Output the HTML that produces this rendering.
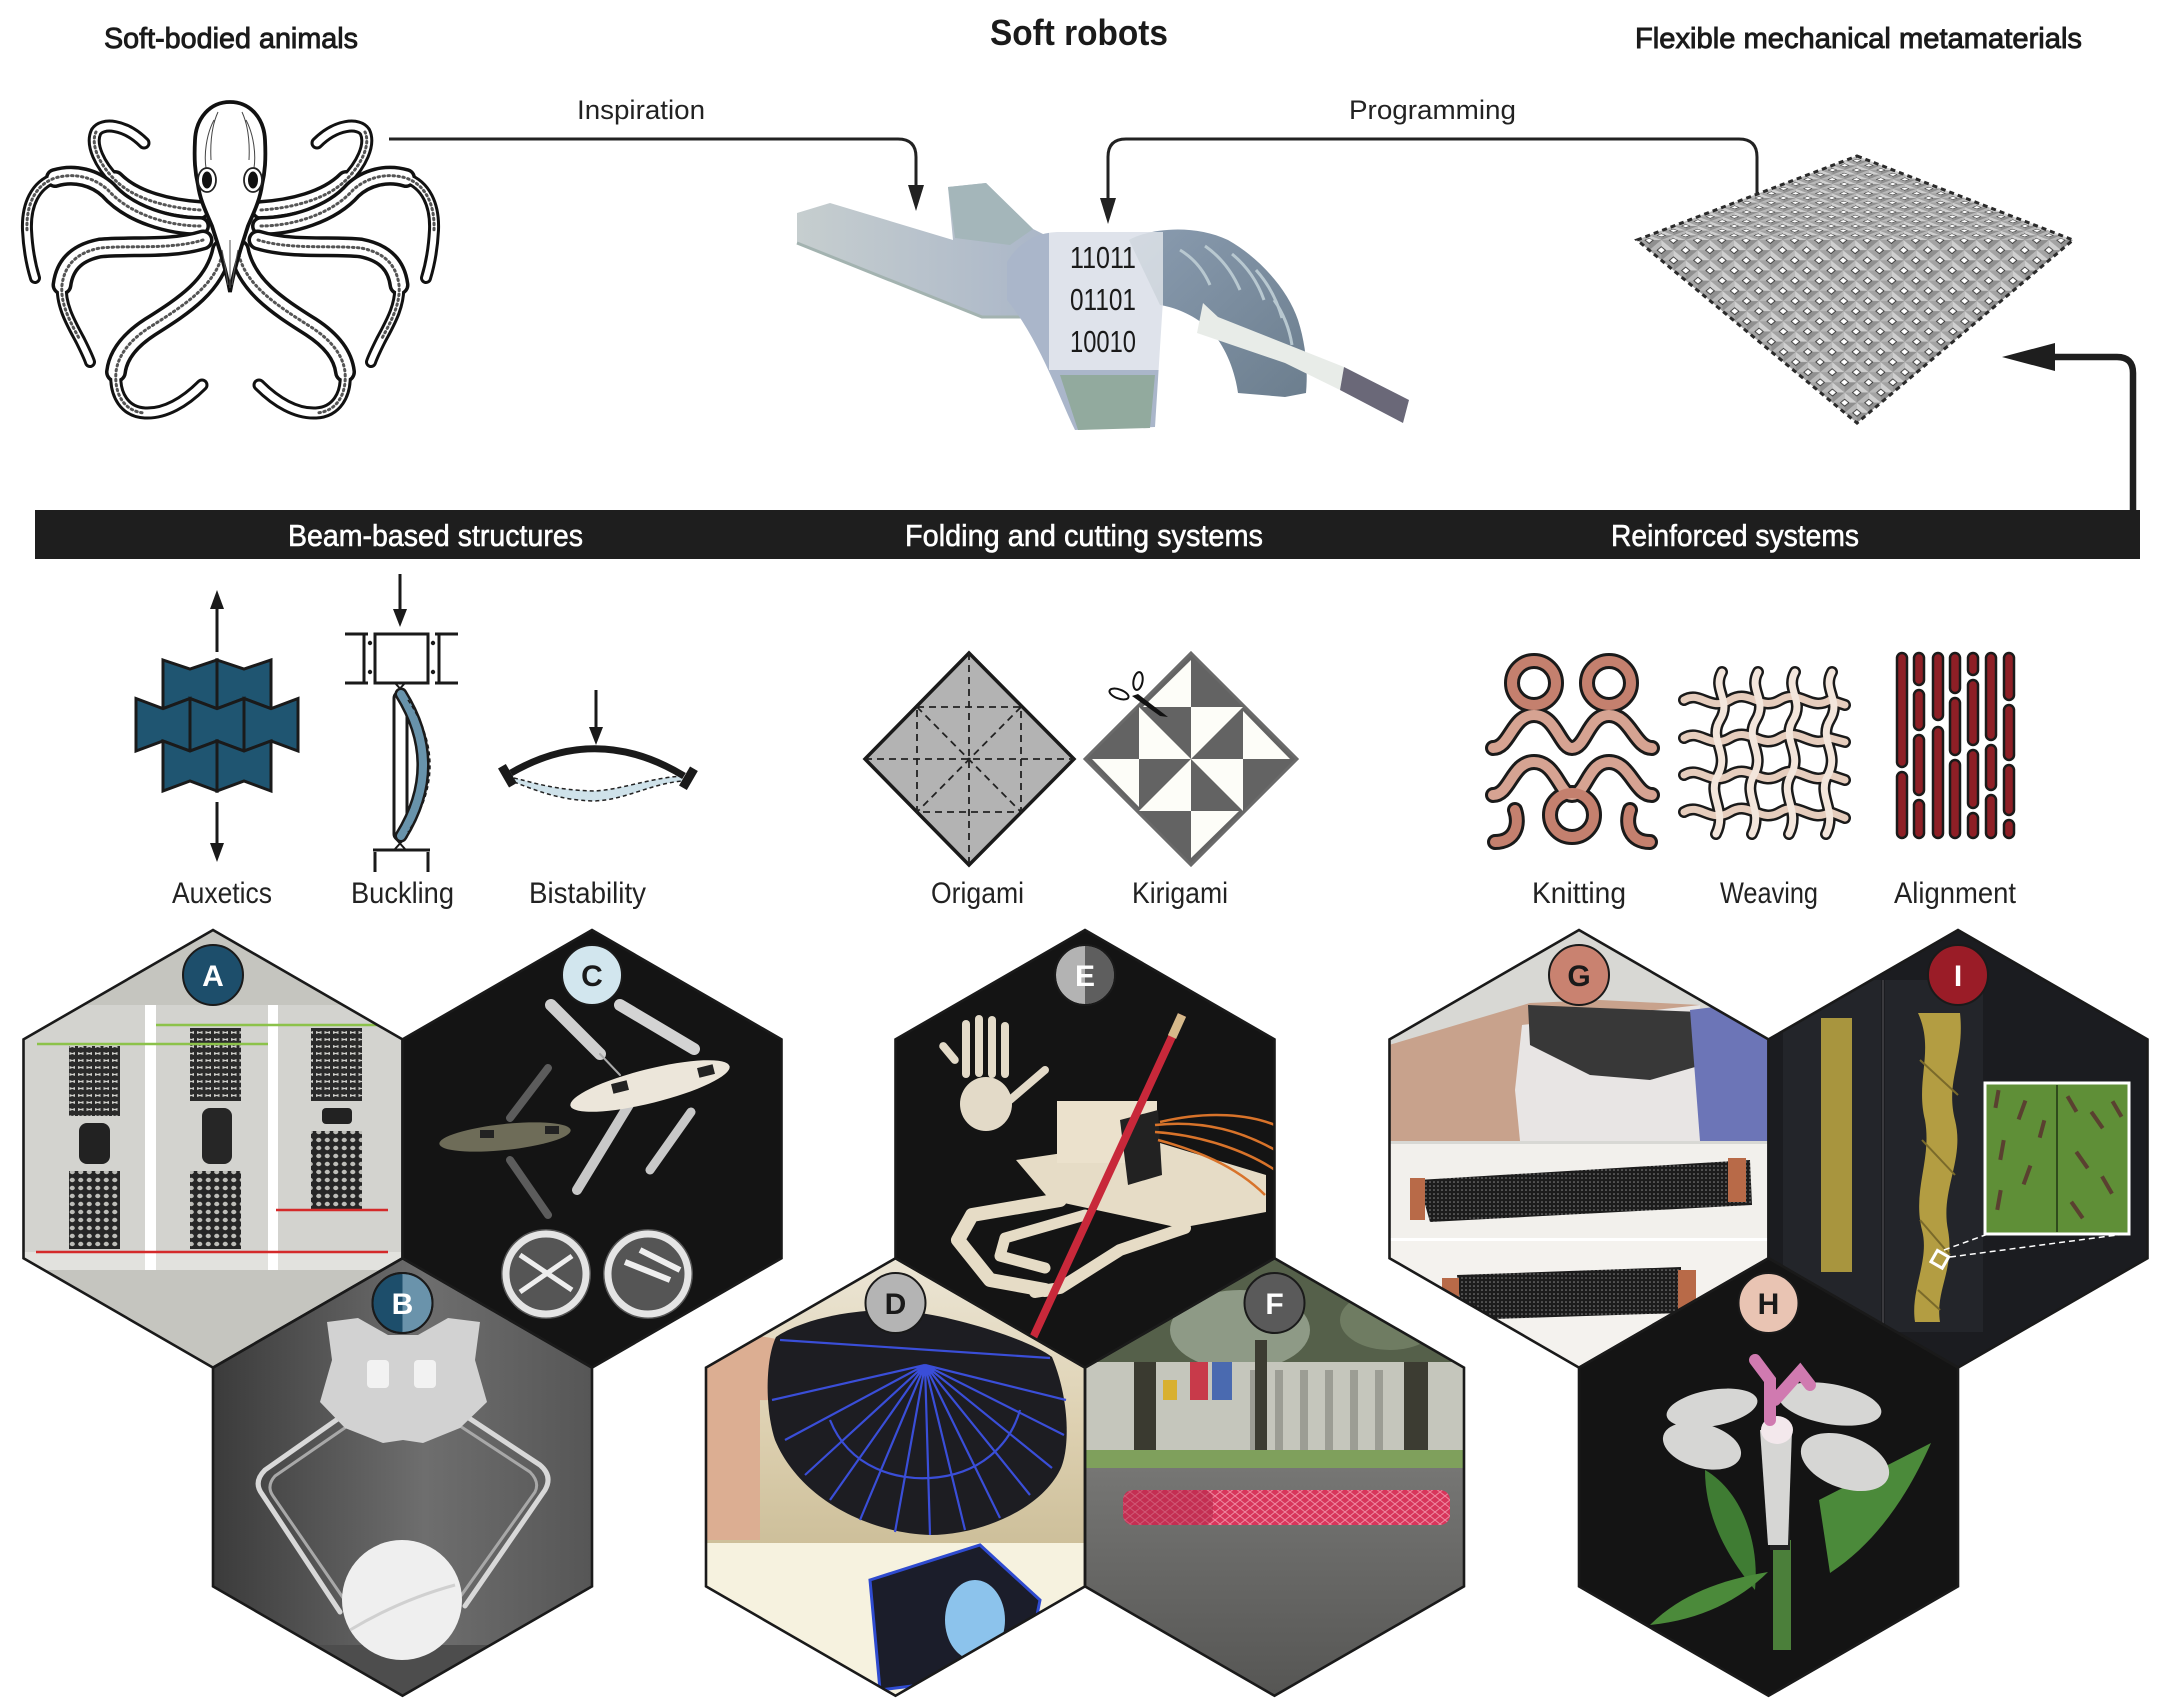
<!DOCTYPE html>
<html><head><meta charset="utf-8"><style>
html,body{margin:0;padding:0;background:#fff;}
svg{display:block;}
text{font-family:"Liberation Sans Narrow","Liberation Sans",sans-serif;}
</style></head><body>
<svg xmlns="http://www.w3.org/2000/svg" width="2175" height="1708" viewBox="0 0 2175 1708">
<defs>
<clipPath id="cA"><polygon points="213,930 402.5,1039.4 402.5,1258.2 213,1367.6 23.5,1258.2 23.5,1039.4"/></clipPath>
<clipPath id="cC"><polygon points="592,930 781.5,1039.4 781.5,1258.2 592,1367.6 402.5,1258.2 402.5,1039.4"/></clipPath>
<clipPath id="cB"><polygon points="402.5,1258.2 592,1367.6 592,1586.4 402.5,1695.8 213,1586.4 213,1367.6"/></clipPath>
<clipPath id="cE"><polygon points="1085,930 1274.5,1039.4 1274.5,1258.2 1085,1367.6 895.5,1258.2 895.5,1039.4"/></clipPath>
<clipPath id="cD"><polygon points="895.5,1258.2 1085,1367.6 1085,1586.4 895.5,1695.8 706,1586.4 706,1367.6"/></clipPath>
<clipPath id="cF"><polygon points="1274.5,1258.2 1464,1367.6 1464,1586.4 1274.5,1695.8 1085,1586.4 1085,1367.6"/></clipPath>
<clipPath id="cG"><polygon points="1579,930 1768.5,1039.4 1768.5,1258.2 1579,1367.6 1389.5,1258.2 1389.5,1039.4"/></clipPath>
<clipPath id="cI"><polygon points="1958,930 2147.5,1039.4 2147.5,1258.2 1958,1367.6 1768.5,1258.2 1768.5,1039.4"/></clipPath>
<clipPath id="cH"><polygon points="1768.5,1258.2 1958,1367.6 1958,1586.4 1768.5,1695.8 1579,1586.4 1579,1367.6"/></clipPath>

<pattern id="mm" width="10" height="10" patternUnits="userSpaceOnUse">
 <rect width="10" height="10" fill="#a3a3a3"/>
 <polygon points="0,0 10,0 5,5" fill="#cfcfcf"/>
 <polygon points="0,0 5,5 0,10" fill="#b8b8b8"/>
 <polygon points="10,10 5,5 10,0" fill="#8f8f8f"/>
 <rect x="3.3" y="3.3" width="3.4" height="3.4" fill="#fff" stroke="#222" stroke-width="0.5"/>
</pattern>
<pattern id="latA" width="8.5" height="7" patternUnits="userSpaceOnUse">
 <rect width="8.5" height="7" fill="#2a2a2a"/>
 <polygon points="1.5,2 4.25,3 7,2 7,5 4.25,4 1.5,5" fill="#cfcfcb"/>
</pattern>
<pattern id="latB" width="8.5" height="8" patternUnits="userSpaceOnUse">
 <rect width="8.5" height="8" fill="#262626"/>
 <ellipse cx="4.25" cy="4" rx="2.6" ry="2.2" fill="#bdbdb8"/>
</pattern>
<pattern id="knit" width="4" height="4" patternUnits="userSpaceOnUse">
 <rect width="4" height="4" fill="#1c1c1c"/>
 <circle cx="2" cy="2" r="0.8" fill="#8a8a8a"/>
</pattern>
<pattern id="tube" width="10" height="8" patternUnits="userSpaceOnUse">
 <rect width="10" height="8" fill="#d8355b"/>
 <path d="M0,4 L5,0 L10,4 L5,8 Z" fill="none" stroke="#ef8aa2" stroke-width="1"/>
</pattern>
<linearGradient id="gB" x1="0" y1="0" x2="1" y2="0">
 <stop offset="0" stop-color="#3a3a3a"/><stop offset="0.55" stop-color="#6e6e6e"/><stop offset="1" stop-color="#555"/>
</linearGradient>
<linearGradient id="gD" x1="0" y1="0" x2="0" y2="1">
 <stop offset="0" stop-color="#ece6d6"/><stop offset="0.6" stop-color="#ddd0b0"/><stop offset="1" stop-color="#cdbf9a"/>
</linearGradient>
<linearGradient id="gF" x1="0" y1="0" x2="0" y2="1">
 <stop offset="0" stop-color="#767674"/><stop offset="1" stop-color="#545452"/>
</linearGradient>
<linearGradient id="gArm" x1="0" y1="0" x2="1" y2="0">
 <stop offset="0" stop-color="#c6cecf"/><stop offset="1" stop-color="#aab6c8"/>
</linearGradient>
<linearGradient id="gArc" x1="0" y1="0" x2="1" y2="1">
 <stop offset="0" stop-color="#8a9cb0"/><stop offset="1" stop-color="#6c7e8e"/>
</linearGradient>

<g id="arms" fill="none" stroke-linecap="round" stroke-linejoin="round">
 <path d="M200 210 C170 208,135 200,115 180" stroke="#111" stroke-width="20"/>
 <path d="M115 180 C100 165,90 145,96 132 C102 122,125 124,144 143" stroke="#111" stroke-width="13"/>
 <path d="M200 210 C170 208,135 200,115 180" stroke="#fff" stroke-width="13"/>
 <path d="M115 180 C100 165,90 145,96 132 C102 122,125 124,144 143" stroke="#fff" stroke-width="7"/>
 <path d="M200 210 C170 208,135 200,115 180 C100 165,90 145,96 132" stroke="#555" stroke-width="3" stroke-dasharray="1.5 3.5"/>
 <path d="M200 226 C170 226,130 215,108 190 C95 178,75 172,55 178" stroke="#111" stroke-width="20"/>
 <path d="M55 178 C35 185,26 205,27 230 C28 250,31 265,35 278" stroke="#111" stroke-width="12"/>
 <path d="M200 226 C170 226,130 215,108 190 C95 178,75 172,55 178" stroke="#fff" stroke-width="13"/>
 <path d="M55 178 C35 185,26 205,27 230 C28 250,31 265,35 278" stroke="#fff" stroke-width="6"/>
 <path d="M200 226 C170 226,130 215,108 190 C95 178,75 172,55 178 C35 185,26 205,27 230" stroke="#555" stroke-width="3" stroke-dasharray="1.5 3.5"/>
 <path d="M203 240 C170 250,130 245,100 248 C80 252,65 262,62 285" stroke="#111" stroke-width="21"/>
 <path d="M62 285 C60 305,72 325,80 340 C85 350,88 356,90 362" stroke="#111" stroke-width="12"/>
 <path d="M203 240 C170 250,130 245,100 248 C80 252,65 262,62 285" stroke="#fff" stroke-width="14"/>
 <path d="M62 285 C60 305,72 325,80 340 C85 350,88 356,90 362" stroke="#fff" stroke-width="6"/>
 <path d="M203 240 C170 250,130 245,100 248 C80 252,65 262,62 285 C60 305,72 325,80 340" stroke="#555" stroke-width="3" stroke-dasharray="1.5 3.5"/>
 <path d="M222 250 C215 285,185 305,150 327 C130 340,118 355,116 372" stroke="#111" stroke-width="22"/>
 <path d="M116 372 C114 395,125 412,145 413 C165 414,185 402,202 385" stroke="#111" stroke-width="13"/>
 <path d="M222 250 C215 285,185 305,150 327 C130 340,118 355,116 372" stroke="#fff" stroke-width="15"/>
 <path d="M116 372 C114 395,125 412,145 413 C165 414,185 402,202 385" stroke="#fff" stroke-width="7"/>
 <path d="M222 255 C215 285,185 305,150 327 C130 340,118 355,116 372 C114 395,125 412,145 413" stroke="#555" stroke-width="3" stroke-dasharray="1.5 3.5"/>
</g>
</defs>

<rect width="2175" height="1708" fill="#fff"/>

<!-- Titles -->
<text x="104" y="48" font-size="29" textLength="254" lengthAdjust="spacingAndGlyphs" fill="#1a1a1a" stroke="#1a1a1a" stroke-width="0.9">Soft-bodied animals</text>
<text x="990" y="45" font-size="36" font-weight="bold" textLength="178" lengthAdjust="spacingAndGlyphs" fill="#1a1a1a">Soft robots</text>
<text x="1635" y="48" font-size="29" textLength="447" lengthAdjust="spacingAndGlyphs" fill="#1a1a1a" stroke="#1a1a1a" stroke-width="0.9">Flexible mechanical  metamaterials</text>
<text x="577" y="119" font-size="27" textLength="128" lengthAdjust="spacingAndGlyphs" fill="#222">Inspiration</text>
<text x="1349" y="119" font-size="27" textLength="167" lengthAdjust="spacingAndGlyphs" fill="#222">Programming</text>

<!-- Connectors -->
<path d="M389 139 H898 Q916 139 916 157 V190" fill="none" stroke="#222" stroke-width="3"/>
<polygon points="908,185 924,185 916,211" fill="#222"/>
<path d="M1108 200 V157 Q1108 139 1126 139 H1739 Q1757 139 1757 157 V201" fill="none" stroke="#222" stroke-width="3"/>
<polygon points="1100,198 1116,198 1108,224" fill="#222"/>
<path d="M2133 514 V373 Q2133 357 2117 357 H2050" fill="none" stroke="#1e1e1e" stroke-width="6.5"/>
<polygon points="2055,343 2055,371 2002,357" fill="#1e1e1e"/>

<!-- Octopus -->
<use href="#arms"/>
<use href="#arms" transform="translate(461,0) scale(-1,1)"/>
<path d="M230 102 C210 102,196 118,195 140 C194 160,195 172,198 185 C200 200,206 212,212 226 C218 245,225 265,230 292 C235 265,242 245,248 226 C254 212,260 200,262 185 C265 172,266 160,265 140 C264 118,250 102,230 102 Z" fill="#fff" stroke="#111" stroke-width="3.8"/>
<path d="M214 120 C206 135,204 155,206 168 M246 120 C254 135,256 155,254 168 M218 112 C212 125,210 140,211 160 M242 112 C248 125,250 140,249 160" fill="none" stroke="#444" stroke-width="1"/>
<ellipse cx="207" cy="180" rx="9" ry="12" fill="#fff" stroke="#222" stroke-width="1.8"/>
<ellipse cx="253" cy="180" rx="9" ry="12" fill="#fff" stroke="#222" stroke-width="1.8"/>
<ellipse cx="207" cy="180" rx="5" ry="8.5" fill="#111"/>
<ellipse cx="253" cy="180" rx="5" ry="8.5" fill="#111"/>
<path d="M230 240 V288 M222 250 Q226 270 228 285 M238 250 Q234 270 232 285" stroke="#555" stroke-width="1" fill="none"/>

<!-- Soft robot -->
<polygon points="797,213 830,203 953,240 948,187 986,183 1033,229 1049,237 1049,320 1033,317 982,317 797,243" fill="url(#gArm)"/>
<polygon points="948,187 986,183 1033,229 1010,245 955,238" fill="#a4b6ba"/>
<path d="M797,243 L982,317 L1033,317" fill="none" stroke="#a3b3b0" stroke-width="3"/>
<path d="M1007,262 C1020,240 1040,232 1060,232 L1160,232 L1163,300 L1155,427 L1075,430 C1060,400 1040,340 1007,300 Z" fill="#aab6ca"/>
<path d="M1129,240 C1150,228 1195,224 1228,240 C1260,258 1288,290 1298,320 C1306,345 1308,370 1306,393 L1285,397 L1238,393 C1234,365 1222,340 1205,325 C1188,312 1172,307 1160,305 Z" fill="url(#gArc)"/>
<path d="M1180,250 Q1200,262 1210,285 M1205,246 Q1228,262 1240,290 M1232,254 Q1254,272 1264,300 M1256,270 Q1274,290 1282,318 M1274,300 Q1288,320 1292,345" stroke="#b8c8d0" stroke-width="3" fill="none"/>
<polygon points="1203,303 1218,317 1344,367 1340,390 1285,363 1197,333" fill="#e8ece8"/>
<polygon points="1344,367 1409,400 1403,423 1340,390" fill="#6a6878"/>
<path d="M1060,375 L1155,375 L1150,428 L1078,430 Z" fill="#92aa9e"/>
<rect x="1049" y="232" width="114" height="138" fill="#fff" fill-opacity="0.62"/>
<text x="1070" y="268" font-size="31" textLength="66" lengthAdjust="spacingAndGlyphs" fill="#1a1a1a">11011</text>
<text x="1070" y="310" font-size="31" textLength="66" lengthAdjust="spacingAndGlyphs" fill="#1a1a1a">01101</text>
<text x="1070" y="352" font-size="31" textLength="66" lengthAdjust="spacingAndGlyphs" fill="#1a1a1a">10010</text>

<!-- Metamaterial -->
<g transform="matrix(1.2,0.4667,-1.2222,0.4667,1857,156)"><polygon points="0,0 180,0 0,180" fill="url(#mm)"/></g>
<g transform="matrix(1.2222,1.0167,-1.2,1.0167,1853,57)"><polygon points="180,0 180,180 0,180" fill="url(#mm)"/></g>
<polygon points="1857,156 2073,240 1857,423 1637,240" fill="none" stroke="#2a2a2a" stroke-width="3" stroke-dasharray="5 4"/>

<!-- Bar -->
<rect x="35" y="510" width="2105" height="49" fill="#1e1e1e"/>
<text x="288" y="546" font-size="31" textLength="295" lengthAdjust="spacingAndGlyphs" fill="#fff" stroke="#fff" stroke-width="0.6">Beam-based structures</text>
<text x="905" y="546" font-size="31" textLength="358" lengthAdjust="spacingAndGlyphs" fill="#fff" stroke="#fff" stroke-width="0.6">Folding and cutting systems</text>
<text x="1611" y="546" font-size="31" textLength="248" lengthAdjust="spacingAndGlyphs" fill="#fff" stroke="#fff" stroke-width="0.6">Reinforced systems</text>

<!-- Auxetics -->
<g fill="#1f5571" stroke="#1a1a1a" stroke-width="3" stroke-linejoin="miter">
 <polygon points="163,660 190,669 217,660 217,708.6 190,698.5 163,708.6"/>
 <polygon points="217,660 244,669 271,660 271,708.6 244,698.5 217,708.6"/>
 <polygon points="136,698.5 163,708.6 190,698.5 190,751 163,741 136,751"/>
 <polygon points="190,698.5 217,708.6 244,698.5 244,751 217,741 190,751"/>
 <polygon points="244,698.5 271,708.6 298,698.5 298,751 271,741 244,751"/>
 <polygon points="163,741 190,751 217,741 217,791 190,781 163,791"/>
 <polygon points="217,741 244,751 271,741 271,791 244,781 217,791"/>
</g>
<line x1="217" y1="652" x2="217" y2="606" stroke="#1a1a1a" stroke-width="3"/>
<polygon points="210,609 224,609 217,590" fill="#1a1a1a"/>
<line x1="217" y1="802" x2="217" y2="846" stroke="#1a1a1a" stroke-width="3"/>
<polygon points="210,843 224,843 217,862" fill="#1a1a1a"/>
<!-- Buckling -->
<line x1="400" y1="574" x2="400" y2="612" stroke="#1a1a1a" stroke-width="3"/>
<polygon points="393,609 407,609 400,627" fill="#1a1a1a"/>
<g fill="none" stroke="#1a1a1a" stroke-width="3">
 <rect x="375" y="634" width="53" height="49" fill="#fff"/>
 <path d="M345 634 H368 M364 634 V683 M345 683 H368 M458 634 H435 M439 634 V683 M458 683 H435"/>
 <path d="M375 852 V872 M428 852 V872 M373 850 H430"/>
 <path d="M395 683 L405 694 M405 683 L395 694 M395 838 L405 849 M405 838 L395 849" stroke-width="2"/>
 <rect x="394" y="692" width="13" height="148" rx="6" fill="#fff"/>
</g>
<circle cx="370" cy="643" r="2.2" fill="#1a1a1a"/><circle cx="370" cy="672" r="2.2" fill="#1a1a1a"/>
<circle cx="433" cy="643" r="2.2" fill="#1a1a1a"/><circle cx="433" cy="672" r="2.2" fill="#1a1a1a"/>
<path d="M401 694 Q445 765 401 836" fill="none" stroke="#1a1a1a" stroke-width="13" stroke-linecap="round"/>
<path d="M401 694 Q445 765 401 836" fill="none" stroke="#6893ab" stroke-width="8" stroke-linecap="round"/>
<path d="M408 700 Q452 765 408 832" fill="none" stroke="#1a1a1a" stroke-width="1.5" stroke-dasharray="4 3"/>
<!-- Bistability -->
<line x1="596" y1="690" x2="596" y2="730" stroke="#1a1a1a" stroke-width="3"/>
<polygon points="589,727 603,727 596,745" fill="#1a1a1a"/>
<path d="M514 778 C535 783,555 790,594 791 C620 790,650 778,682 776 L682 781 C650 784,625 800,594 801 C560 800,540 792,514 782 Z" fill="#cfe2ea"/>
<path d="M514 778 C535 783,555 790,594 791 C620 790,650 778,682 776" fill="none" stroke="#222" stroke-width="1.5" stroke-dasharray="4 3"/>
<path d="M514 782 C540 792,560 800,594 801 C625 800,650 784,682 781" fill="none" stroke="#222" stroke-width="1.5" stroke-dasharray="4 3"/>
<path d="M511 773 Q597 723 684 776" fill="none" stroke="#1a1a1a" stroke-width="7"/>
<rect x="503" y="765" width="9" height="22" fill="#1a1a1a" transform="rotate(-30 507 776)"/>
<rect x="684" y="767" width="9" height="22" fill="#1a1a1a" transform="rotate(30 688 778)"/>
<!-- Origami -->
<polygon points="969,653 1074,759 969,865 865,759" fill="#b3b3b3" stroke="#1a1a1a" stroke-width="3.5"/>
<g stroke="#222" stroke-width="1.8" stroke-dasharray="7 5" fill="none">
 <rect x="917" y="707" width="104" height="105"/>
 <line x1="865" y1="759" x2="1074" y2="759"/>
 <line x1="969" y1="653" x2="969" y2="865"/>
 <line x1="917" y1="707" x2="1021" y2="812"/>
 <line x1="1021" y1="707" x2="917" y2="812"/>
</g>
<!-- Kirigami -->
<polygon points="1191,653 1297,759 1191,865 1085,759" fill="#636363" stroke="#6a6a6a" stroke-width="3"/>
<g fill="#fdfdf8" transform="translate(1191,759)">
 <polygon points="0,-99 0,-52 -48,-52"/>
 <polygon points="-52,-52 -52,0 0,0"/>
 <polygon points="99,0 52,0 52,-48"/>
 <polygon points="52,-52 0,-52 0,0"/>
 <polygon points="0,99 0,52 48,52"/>
 <polygon points="52,52 52,0 0,0"/>
 <polygon points="-99,0 -52,0 -52,48"/>
 <polygon points="-52,52 0,52 0,0"/>
</g>
<g stroke="#111" fill="none" stroke-width="2">
 <ellipse cx="1138" cy="681" rx="4.5" ry="9" transform="rotate(10 1138 681)"/>
 <ellipse cx="1119" cy="694" rx="10" ry="4.5" transform="rotate(20 1119 694)"/>
</g>
<polygon points="1132,696 1138,694 1168,717 1160,716" fill="#111"/>
<!-- Knitting -->
<g fill="none" stroke-linecap="round">
 <g stroke="#1a1a1a" stroke-width="16">
  <circle cx="1534" cy="683" r="22"/><circle cx="1609" cy="683" r="22"/>
  <path d="M1493 748 C1510 748,1512 715,1534 715 C1556 715,1560 748,1572 748 C1586 748,1588 715,1609 715 C1630 715,1635 748,1652 748"/>
  <path d="M1493 795 C1510 795,1512 762,1534 762 C1556 762,1560 795,1572 795 C1586 795,1588 762,1609 762 C1630 762,1635 795,1652 795"/>
  <circle cx="1572" cy="815" r="22"/>
  <path d="M1495 842 C1515 842,1520 825,1515 810 M1650 842 C1630 842,1625 825,1630 810"/>
 </g>
 <g stroke="#c4806e" stroke-width="10">
  <circle cx="1534" cy="683" r="22"/><circle cx="1609" cy="683" r="22"/>
  <path d="M1493 748 C1510 748,1512 715,1534 715 C1556 715,1560 748,1572 748 C1586 748,1588 715,1609 715 C1630 715,1635 748,1652 748" stroke="#d6a392"/>
  <path d="M1493 795 C1510 795,1512 762,1534 762 C1556 762,1560 795,1572 795 C1586 795,1588 762,1609 762 C1630 762,1635 795,1652 795" stroke="#d6a392"/>
  <circle cx="1572" cy="815" r="22"/>
  <path d="M1495 842 C1515 842,1520 825,1515 810 M1650 842 C1630 842,1625 825,1630 810"/>
 </g>
</g>
<!-- Weaving -->
<g fill="none" stroke-linecap="round">
 <g stroke="#1a1a1a" stroke-width="12">
  <path d="M1684 700 C1700 690,1710 712,1730 700 C1750 688,1760 712,1780 700 C1800 688,1810 712,1830 700 L1845 705"/>
  <path d="M1684 738 C1700 728,1710 750,1730 738 C1750 726,1760 750,1780 738 C1800 726,1810 750,1830 738 L1845 742"/>
  <path d="M1684 775 C1700 765,1710 787,1730 775 C1750 763,1760 787,1780 775 C1800 763,1810 787,1830 775 L1845 780"/>
  <path d="M1684 812 C1700 802,1710 824,1730 812 C1750 800,1760 824,1780 812 C1800 800,1810 824,1830 812 L1845 818"/>
  <path d="M1722 672 C1712 690,1732 700,1720 720 C1708 740,1730 752,1718 775 C1706 795,1728 810,1716 834"/>
  <path d="M1758 672 C1748 690,1768 700,1756 720 C1744 740,1766 752,1754 775 C1742 795,1764 810,1752 834"/>
  <path d="M1795 672 C1785 690,1805 700,1793 720 C1781 740,1803 752,1791 775 C1779 795,1801 810,1789 834"/>
  <path d="M1832 672 C1822 690,1842 700,1830 720 C1818 740,1840 752,1828 775 C1816 795,1838 810,1826 834"/>
 </g>
 <g stroke-width="7">
  <g stroke="#e6cdbd">
  <path d="M1684 700 C1700 690,1710 712,1730 700 C1750 688,1760 712,1780 700 C1800 688,1810 712,1830 700 L1845 705"/>
  <path d="M1684 738 C1700 728,1710 750,1730 738 C1750 726,1760 750,1780 738 C1800 726,1810 750,1830 738 L1845 742"/>
  <path d="M1684 775 C1700 765,1710 787,1730 775 C1750 763,1760 787,1780 775 C1800 763,1810 787,1830 775 L1845 780"/>
  <path d="M1684 812 C1700 802,1710 824,1730 812 C1750 800,1760 824,1780 812 C1800 800,1810 824,1830 812 L1845 818"/>
  </g>
  <g stroke="#f3e6dc">
  <path d="M1722 672 C1712 690,1732 700,1720 720 C1708 740,1730 752,1718 775 C1706 795,1728 810,1716 834"/>
  <path d="M1758 672 C1748 690,1768 700,1756 720 C1744 740,1766 752,1754 775 C1742 795,1764 810,1752 834"/>
  <path d="M1795 672 C1785 690,1805 700,1793 720 C1781 740,1803 752,1791 775 C1779 795,1801 810,1789 834"/>
  <path d="M1832 672 C1822 690,1842 700,1830 720 C1818 740,1840 752,1828 775 C1816 795,1838 810,1826 834"/>
  </g>
 </g>
</g>
<!-- Alignment -->
<g fill="#8e1f26" stroke="#1a1a1a" stroke-width="2.5">
 <rect x="1897" y="653" width="10" height="114" rx="5"/><rect x="1897" y="772" width="10" height="66" rx="5"/>
 <rect x="1914" y="653" width="10" height="32" rx="5"/><rect x="1914" y="690" width="10" height="40" rx="5"/><rect x="1914" y="735" width="10" height="60" rx="5"/><rect x="1914" y="800" width="10" height="38" rx="5"/>
 <rect x="1933" y="653" width="10" height="67" rx="5"/><rect x="1933" y="727" width="10" height="111" rx="5"/>
 <rect x="1950" y="653" width="10" height="40" rx="5"/><rect x="1950" y="698" width="10" height="57" rx="5"/><rect x="1950" y="760" width="10" height="78" rx="5"/>
 <rect x="1968" y="653" width="10" height="22" rx="5"/><rect x="1968" y="680" width="10" height="65" rx="5"/><rect x="1968" y="750" width="10" height="58" rx="5"/><rect x="1968" y="813" width="10" height="25" rx="5"/>
 <rect x="1986" y="653" width="10" height="87" rx="5"/><rect x="1986" y="745" width="10" height="45" rx="5"/><rect x="1986" y="795" width="10" height="43" rx="5"/>
 <rect x="2004" y="653" width="10" height="47" rx="5"/><rect x="2004" y="705" width="10" height="55" rx="5"/><rect x="2004" y="765" width="10" height="50" rx="5"/><rect x="2004" y="820" width="10" height="18" rx="5"/>
</g>

<!-- Labels -->
<g font-size="30" fill="#222">
 <text x="172" y="903" textLength="100" lengthAdjust="spacingAndGlyphs">Auxetics</text>
 <text x="351" y="903" textLength="103" lengthAdjust="spacingAndGlyphs">Buckling</text>
 <text x="529" y="903" textLength="117" lengthAdjust="spacingAndGlyphs">Bistability</text>
 <text x="931" y="903" textLength="93" lengthAdjust="spacingAndGlyphs">Origami</text>
 <text x="1132" y="903" textLength="96" lengthAdjust="spacingAndGlyphs">Kirigami</text>
 <text x="1532" y="903" textLength="94" lengthAdjust="spacingAndGlyphs">Knitting</text>
 <text x="1720" y="903" textLength="98" lengthAdjust="spacingAndGlyphs">Weaving</text>
 <text x="1894" y="903" textLength="122" lengthAdjust="spacingAndGlyphs">Alignment</text>
</g>

<!-- Hex A -->
<g clip-path="url(#cA)">
 <rect x="20" y="925" width="390" height="450" fill="#c5c5bf"/>
 <rect x="23" y="1005" width="380" height="265" fill="#d3d3cf"/>
 <rect x="23" y="1252" width="380" height="18" fill="#e2e2de"/>
 <rect x="145" y="1005" width="11" height="265" fill="#fff"/>
 <rect x="268" y="1005" width="10" height="265" fill="#fff"/>
 <rect x="69" y="1046" width="51" height="70" fill="url(#latA)"/>
 <rect x="79" y="1123" width="31" height="41" rx="8" fill="#222"/>
 <rect x="69" y="1171" width="51" height="78" fill="url(#latB)"/>
 <rect x="190" y="1028" width="51" height="73" fill="url(#latA)"/>
 <rect x="202" y="1108" width="30" height="56" rx="8" fill="#262626"/>
 <rect x="190" y="1171" width="51" height="78" fill="url(#latB)"/>
 <rect x="311" y="1028" width="51" height="73" fill="url(#latA)"/>
 <rect x="322" y="1108" width="30" height="16" rx="4" fill="#222"/>
 <rect x="311" y="1131" width="51" height="78" fill="url(#latB)"/>
 <line x1="37" y1="1044" x2="268" y2="1044" stroke="#8cc24a" stroke-width="2.5"/>
 <line x1="156" y1="1025" x2="378" y2="1025" stroke="#8cc24a" stroke-width="2.5"/>
 <line x1="276" y1="1210" x2="388" y2="1210" stroke="#d42a2a" stroke-width="2.5"/>
 <line x1="36" y1="1252" x2="388" y2="1252" stroke="#d42a2a" stroke-width="2.5"/>
</g>
<!-- Hex C -->
<g clip-path="url(#cC)">
 <rect x="400" y="925" width="390" height="450" fill="#141414"/>
 <g stroke-linecap="round">
  <line x1="551" y1="1005" x2="600" y2="1054" stroke="#cfcfcf" stroke-width="12"/>
  <line x1="620" y1="1005" x2="694" y2="1049" stroke="#d3d3d3" stroke-width="12"/>
  <line x1="633" y1="1098" x2="577" y2="1190" stroke="#c8c8c8" stroke-width="10"/>
  <line x1="691" y1="1112" x2="650" y2="1170" stroke="#c8c8c8" stroke-width="9"/>
  <line x1="548" y1="1068" x2="510" y2="1118" stroke="#5c5c5c" stroke-width="8"/>
  <line x1="510" y1="1160" x2="548" y2="1215" stroke="#5c5c5c" stroke-width="8"/>
  <line x1="600" y1="1054" x2="620" y2="1075" stroke="#aaa" stroke-width="2"/>
 </g>
 <ellipse cx="505" cy="1137" rx="66" ry="13" fill="#6e6c58" transform="rotate(-6 505 1137)"/>
 <rect x="480" y="1130" width="14" height="8" fill="#222"/><rect x="545" y="1126" width="14" height="8" fill="#222"/>
 <ellipse cx="650" cy="1086" rx="82" ry="17" fill="#ece6da" transform="rotate(-14 650 1086)"/>
 <rect x="612" y="1082" width="16" height="10" fill="#222" transform="rotate(-14 620 1087)"/>
 <rect x="698" y="1066" width="16" height="10" fill="#222" transform="rotate(-14 706 1071)"/>
 <circle cx="546" cy="1274" r="45" fill="#555"/>
 <circle cx="546" cy="1274" r="40" fill="none" stroke="#e4e4e4" stroke-width="7"/>
 <path d="M520 1255 L572 1290 M520 1292 L572 1256" stroke="#eee" stroke-width="5"/>
 <circle cx="648" cy="1274" r="45" fill="#555"/>
 <circle cx="648" cy="1274" r="40" fill="none" stroke="#e4e4e4" stroke-width="7"/>
 <path d="M625 1262 L670 1280 M640 1250 L680 1270" stroke="#eee" stroke-width="6"/>
</g>
<!-- Hex B -->
<g clip-path="url(#cB)">
 <rect x="210" y="1255" width="390" height="445" fill="url(#gB)"/>
 <rect x="210" y="1645" width="390" height="60" fill="#4d4d4d"/>
 <g fill="none" stroke-linecap="round" stroke-linejoin="round">
  <path d="M372 1395 L265 1470 Q253 1482 262 1494 L340 1612" stroke="#d8d8d8" stroke-width="5"/>
  <path d="M378 1405 L275 1476 Q266 1486 273 1496 L348 1605" stroke="#a8a8a8" stroke-width="3"/>
  <path d="M434 1395 L540 1465 Q553 1476 545 1490 L465 1606" stroke="#d8d8d8" stroke-width="5"/>
  <path d="M428 1405 L530 1472 Q540 1482 535 1492 L458 1600" stroke="#a8a8a8" stroke-width="3"/>
 </g>
 <polygon points="327,1322 358,1318 388,1335 418,1335 448,1318 480,1322 475,1360 487,1402 460,1428 423,1443 403,1440 383,1443 345,1428 320,1402 332,1360" fill="#d2d2d2"/>
 <rect x="367" y="1360" width="22" height="28" rx="4" fill="#f2f2f2"/>
 <rect x="414" y="1360" width="22" height="28" rx="4" fill="#f2f2f2"/>
 <circle cx="402" cy="1600" r="60" fill="#efefef"/>
 <path d="M350 1630 Q400 1600 455 1585" stroke="#d0d0d0" stroke-width="3" fill="none"/>
</g>
<!-- Hex E -->
<g clip-path="url(#cE)">
 <rect x="890" y="925" width="390" height="450" fill="#141414"/>
 <g fill="#e3dac8">
  <rect x="962" y="1020" width="8" height="58" rx="4"/><rect x="975" y="1015" width="8" height="62" rx="4"/>
  <rect x="988" y="1016" width="8" height="62" rx="4"/><rect x="1001" y="1022" width="8" height="56" rx="4"/>
  <rect x="945" y="1040" width="8" height="26" rx="4" transform="rotate(-40 949 1053)"/>
  <ellipse cx="986" cy="1104" rx="26" ry="27"/>
 </g>
 <line x1="1010" y1="1100" x2="1045" y2="1070" stroke="#e3dac8" stroke-width="8" stroke-linecap="round"/>
 <polygon points="1016,1160 1150,1140 1266,1175 1266,1212 1180,1228 1050,1200" fill="#e6dcc6"/>
 <rect x="1057" y="1101" width="100" height="62" fill="#ebe1cc"/>
 <g fill="none" stroke="#e6dcc6" stroke-linecap="round" stroke-linejoin="round">
  <polyline points="1060,1200 972,1215 958,1240 990,1280 1045,1290" stroke-width="14"/>
  <polyline points="1085,1215 1005,1238 1000,1256 1045,1268" stroke-width="11"/>
  <polyline points="1185,1228 1120,1250 1060,1288 1035,1292" stroke-width="12"/>
 </g>
 <polygon points="1120,1120 1158,1110 1162,1175 1128,1185" fill="#222"/>
 <g fill="none" stroke="#d8732a" stroke-width="2.5">
  <path d="M1155 1125 C1200 1120,1240 1130,1275 1150"/>
  <path d="M1155 1132 C1200 1135,1245 1150,1275 1170"/>
  <path d="M1158 1140 C1195 1150,1235 1165,1265 1195"/>
  <path d="M1160 1122 C1210 1110,1250 1115,1275 1125"/>
 </g>
 <line x1="1182" y1="1015" x2="1032" y2="1340" stroke="#c8283a" stroke-width="8"/>
 <line x1="1182" y1="1015" x2="1172" y2="1037" stroke="#d7b98a" stroke-width="9"/>
</g>
<!-- Hex D -->
<g clip-path="url(#cD)">
 <rect x="700" y="1255" width="390" height="290" fill="url(#gD)"/>
 <path d="M706 1340 C740 1330,790 1335,822 1360 C830 1380,800 1402,760 1400 L760 1540 L706 1540 Z" fill="#dcae92"/>
 <path d="M776 1337 C800 1320,860 1305,914 1312 C960 1318,1030 1340,1052 1357 C1070 1400,1070 1450,1060 1470 C1040 1510,980 1535,930 1535 C870 1533,800 1500,775 1440 C765 1410,765 1360,776 1337 Z" fill="#1d1d22"/>
 <g stroke="#3a4ed8" stroke-width="2.2" fill="none">
  <path d="M925 1365 L772 1400 M925 1365 L785 1440 M925 1365 L805 1475 M925 1365 L830 1500 M925 1365 L860 1520 M925 1365 L895 1532 M925 1365 L930 1535 M925 1365 L965 1530 M925 1365 L1000 1518 M925 1365 L1030 1495 M925 1365 L1052 1468 M925 1365 L1064 1435 M925 1365 L1066 1400"/>
  <path d="M830 1420 C850 1470,900 1480,930 1478 C980 1475,1010 1445,1020 1410"/>
  <path d="M780 1340 L1050 1358"/>
 </g>
 <rect x="700" y="1543" width="390" height="160" fill="#f6f2df"/>
 <path d="M870 1580 L980 1545 L1040 1600 L1030 1650 L960 1680 L880 1690 Z" fill="#1b1d2a" stroke="#2f4bd0" stroke-width="3"/>
 <ellipse cx="975" cy="1620" rx="30" ry="40" fill="#8cc3ec"/>
</g>
<!-- Hex F -->
<g clip-path="url(#cF)">
 <rect x="1080" y="1255" width="390" height="450" fill="url(#gF)"/>
 <rect x="1080" y="1255" width="390" height="110" fill="#55604a"/>
 <ellipse cx="1240" cy="1330" rx="70" ry="40" fill="#8e9a86"/>
 <ellipse cx="1390" cy="1320" rx="50" ry="30" fill="#6f7c62"/>
 <rect x="1085" y="1362" width="380" height="92" fill="#c5c6bc"/>
 <g fill="#9c9d94">
  <rect x="1250" y="1370" width="8" height="80"/><rect x="1275" y="1370" width="8" height="80"/><rect x="1300" y="1370" width="8" height="80"/><rect x="1325" y="1370" width="8" height="80"/><rect x="1350" y="1370" width="8" height="80"/><rect x="1375" y="1370" width="8" height="80"/>
 </g>
 <rect x="1190" y="1362" width="18" height="38" fill="#c83a4a"/><rect x="1212" y="1362" width="20" height="38" fill="#4a6ab0"/>
 <rect x="1163" y="1380" width="14" height="20" fill="#d8b030"/>
 <rect x="1134" y="1362" width="22" height="100" fill="#3a3a30"/>
 <rect x="1404" y="1362" width="24" height="92" fill="#3c3c32"/>
 <rect x="1255" y="1340" width="12" height="115" fill="#3c3c32"/>
 <rect x="1085" y="1450" width="380" height="22" fill="#7fa05c"/>
 <rect x="1085" y="1468" width="380" height="240" fill="url(#gF)"/>
 <rect x="1123" y="1490" width="327" height="35" rx="10" fill="url(#tube)"/>
 <rect x="1123" y="1490" width="90" height="35" rx="10" fill="#b0274a" fill-opacity="0.5"/>
</g>
<!-- Hex G -->
<g clip-path="url(#cG)">
 <rect x="1385" y="925" width="390" height="220" fill="#d8d8d4"/>
 <polygon points="1389,1045 1530,1003 1600,1000 1700,1005 1700,1141 1389,1141" fill="#c8a28c"/>
 <polygon points="1522,1025 1700,1005 1707,1141 1520,1141 1515,1090" fill="#e8e5e4"/>
 <polygon points="1528,1005 1600,1008 1700,1012 1702,1065 1650,1080 1590,1075 1530,1045" fill="#383838"/>
 <polygon points="1690,1010 1770,1000 1770,1141 1700,1141" fill="#6c75b7"/>
 <rect x="1385" y="1144" width="390" height="94" fill="#f2f0ec"/>
 <rect x="1385" y="1241" width="390" height="130" fill="#f4f2ee"/>
 <polygon points="1418,1180 1750,1160 1752,1205 1430,1222" fill="url(#knit)"/>
 <rect x="1410" y="1178" width="15" height="42" fill="#b86a48"/>
 <rect x="1728" y="1158" width="18" height="44" fill="#b86a48"/>
 <polygon points="1457,1275 1681,1267 1681,1313 1462,1320" fill="url(#knit)"/>
 <rect x="1442" y="1278" width="17" height="40" fill="#b86a48"/>
 <rect x="1678" y="1270" width="18" height="42" fill="#b86a48"/>
</g>
<!-- Hex I -->
<g clip-path="url(#cI)">
 <rect x="1765" y="925" width="390" height="450" fill="#1b1c20"/>
 <rect x="1783" y="980" width="98" height="352" fill="#23252a"/>
 <rect x="1885" y="980" width="98" height="352" fill="#23252a"/>
 <line x1="1883" y1="980" x2="1883" y2="1340" stroke="#3a3a3e" stroke-width="2"/>
 <rect x="1821" y="1018" width="31" height="254" fill="#a8953e"/>
 <path d="M1918 1013 L1960 1013 C1965 1060,1945 1080,1955 1120 C1965 1160,1940 1190,1948 1230 C1955 1270,1935 1290,1940 1322 L1915 1322 C1910 1290,1930 1260,1922 1230 C1912 1190,1932 1160,1925 1120 C1915 1080,1935 1050,1918 1013 Z" fill="#b39d42"/>
 <path d="M1920 1060 L1958 1095 M1922 1140 L1955 1175 M1920 1220 L1950 1255 M1918 1290 L1940 1310" stroke="#7a6a2a" stroke-width="2"/>
 <rect x="1985" y="1083" width="144" height="151" fill="#5f8f37" stroke="#fff" stroke-width="3"/>
 <line x1="2057" y1="1085" x2="2057" y2="1232" stroke="#2f4a1c" stroke-width="2"/>
 <g fill="#5a4030">
  <rect x="1995" y="1090" width="4" height="18" transform="rotate(10 1997 1099)"/>
  <rect x="2020" y="1100" width="4" height="20" transform="rotate(20 2022 1110)"/>
  <rect x="2040" y="1120" width="4" height="18" transform="rotate(15 2042 1129)"/>
  <rect x="2000" y="1140" width="4" height="20" transform="rotate(10 2002 1150)"/>
  <rect x="2025" y="1165" width="4" height="20" transform="rotate(20 2027 1175)"/>
  <rect x="1997" y="1190" width="4" height="20" transform="rotate(10 1999 1200)"/>
  <rect x="2070" y="1095" width="4" height="18" transform="rotate(-30 2072 1104)"/>
  <rect x="2095" y="1110" width="4" height="20" transform="rotate(-35 2097 1120)"/>
  <rect x="2115" y="1100" width="4" height="18" transform="rotate(-30 2117 1109)"/>
  <rect x="2080" y="1150" width="4" height="20" transform="rotate(-35 2082 1160)"/>
  <rect x="2105" y="1175" width="4" height="20" transform="rotate(-30 2107 1185)"/>
  <rect x="2075" y="1200" width="4" height="20" transform="rotate(-35 2077 1210)"/>
 </g>
 <rect x="1933" y="1253" width="13" height="13" fill="none" stroke="#fff" stroke-width="3" transform="rotate(30 1940 1260)"/>
 <line x1="1950" y1="1257" x2="2125" y2="1234" stroke="#fff" stroke-width="1.5" stroke-dasharray="6 4"/>
 <line x1="1944" y1="1250" x2="1988" y2="1234" stroke="#fff" stroke-width="1.5" stroke-dasharray="6 4"/>
</g>
<!-- Hex H -->
<g clip-path="url(#cH)">
 <rect x="1575" y="1255" width="390" height="450" fill="#141414"/>
 <path d="M1819 1500 L1931 1443 C1910 1490,1880 1540,1830 1573 Z" fill="#4b8a3a"/>
 <path d="M1705 1470 C1740 1490,1760 1540,1755 1590 C1730 1560,1705 1520,1705 1470 Z" fill="#3f7c33"/>
 <path d="M1650 1625 C1680 1595,1720 1580,1768 1572 C1740 1600,1700 1620,1650 1625 Z" fill="#4b8a3a"/>
 <rect x="1773" y="1540" width="18" height="110" fill="#4b7f3a"/>
 <rect x="1770" y="1510" width="20" height="40" fill="#222"/>
 <g fill="#d6d6d4">
  <ellipse cx="1712" cy="1408" rx="46" ry="18" transform="rotate(-10 1712 1408)"/>
  <ellipse cx="1830" cy="1404" rx="52" ry="20" transform="rotate(10 1830 1404)"/>
  <ellipse cx="1702" cy="1446" rx="40" ry="22" transform="rotate(15 1702 1446)"/>
  <ellipse cx="1845" cy="1462" rx="46" ry="26" transform="rotate(20 1845 1462)"/>
  <path d="M1760 1430 L1792 1430 L1788 1545 L1768 1545 Z"/>
 </g>
 <ellipse cx="1777" cy="1430" rx="16" ry="14" fill="#f3e8ec"/>
 <path d="M1770 1420 L1770 1380 L1755 1360 M1775 1400 L1800 1372 L1810 1385" stroke="#d07ab0" stroke-width="12" fill="none" stroke-linecap="round"/>
</g>

<!-- Hex outlines -->
<g fill="none" stroke="#1a1a1a" stroke-width="2.6" stroke-linejoin="miter">
 <polygon points="213,930 402.5,1039.4 402.5,1258.2 213,1367.6 23.5,1258.2 23.5,1039.4"/>
 <polygon points="592,930 781.5,1039.4 781.5,1258.2 592,1367.6 402.5,1258.2 402.5,1039.4"/>
 <polygon points="402.5,1258.2 592,1367.6 592,1586.4 402.5,1695.8 213,1586.4 213,1367.6"/>
 <polygon points="1085,930 1274.5,1039.4 1274.5,1258.2 1085,1367.6 895.5,1258.2 895.5,1039.4"/>
 <polygon points="895.5,1258.2 1085,1367.6 1085,1586.4 895.5,1695.8 706,1586.4 706,1367.6"/>
 <polygon points="1274.5,1258.2 1464,1367.6 1464,1586.4 1274.5,1695.8 1085,1586.4 1085,1367.6"/>
 <polygon points="1579,930 1768.5,1039.4 1768.5,1258.2 1579,1367.6 1389.5,1258.2 1389.5,1039.4"/>
 <polygon points="1958,930 2147.5,1039.4 2147.5,1258.2 1958,1367.6 1768.5,1258.2 1768.5,1039.4"/>
 <polygon points="1768.5,1258.2 1958,1367.6 1958,1586.4 1768.5,1695.8 1579,1586.4 1579,1367.6"/>
</g>

<!-- Circle labels -->
<g stroke="#1a1a1a" stroke-width="2">
 <circle cx="213" cy="975" r="30" fill="#1d4e6b"/>
 <circle cx="592" cy="975" r="30" fill="#d2e6ee"/>
 <circle cx="402.5" cy="1303" r="30" fill="#1d4e6b"/>
 <circle cx="1085" cy="975" r="30" fill="#b3b3b3"/>
 <circle cx="895.5" cy="1303" r="30" fill="#b4b4b4"/>
 <circle cx="1274.5" cy="1303" r="30" fill="#5a5a5a"/>
 <circle cx="1579" cy="975" r="30" fill="#c98270"/>
 <circle cx="1958" cy="975" r="30" fill="#9a1c27"/>
 <circle cx="1768.5" cy="1303" r="30" fill="#e9c4b3"/>
</g>
<path d="M402.5 1274 A29 29 0 0 1 402.5 1332 Z" fill="#6a93ab"/>
<path d="M1085 946 A29 29 0 0 1 1085 1004 Z" fill="#5e5e5e"/>
<circle cx="402.5" cy="1303" r="30" fill="none" stroke="#1a1a1a" stroke-width="2"/>
<circle cx="1085" cy="975" r="30" fill="none" stroke="#1a1a1a" stroke-width="2"/>
<g font-size="30" font-weight="bold" text-anchor="middle">
 <text x="213" y="986" fill="#fff">A</text>
 <text x="592" y="986" fill="#1a1a1a">C</text>
 <text x="402.5" y="1314" fill="#fff">B</text>
 <text x="1085" y="986" fill="#fff">E</text>
 <text x="895.5" y="1314" fill="#1a1a1a">D</text>
 <text x="1274.5" y="1314" fill="#fff">F</text>
 <text x="1579" y="986" fill="#1a1a1a">G</text>
 <text x="1958" y="986" fill="#fff">I</text>
 <text x="1768.5" y="1314" fill="#1a1a1a">H</text>
</g>
</svg>
</body></html>
